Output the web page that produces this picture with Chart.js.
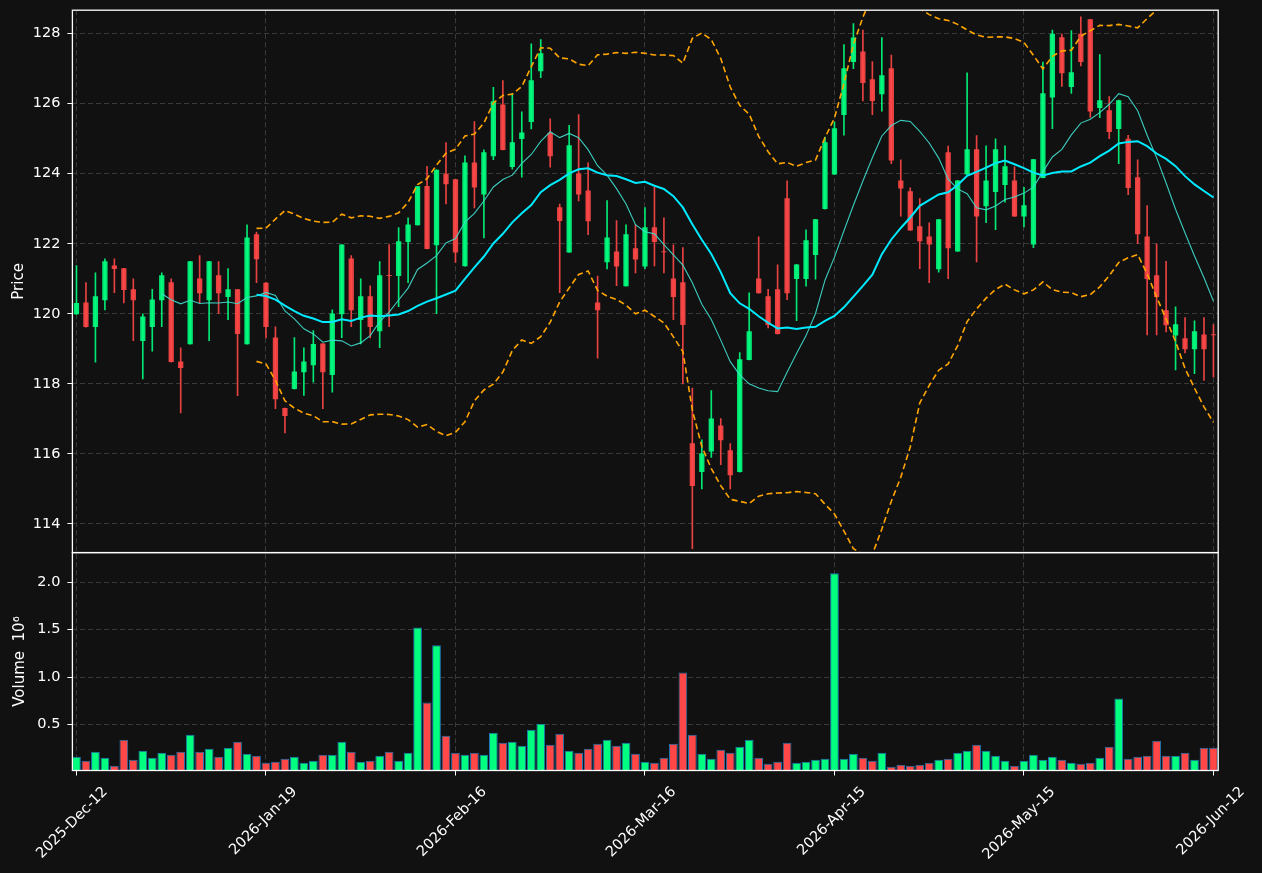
<!DOCTYPE html>
<html>
<head>
<meta charset="utf-8">
<script src="https://cdn.jsdelivr.net/npm/chart.js@4.4.1/dist/chart.umd.min.js"></script>
<style>
html,body{margin:0;padding:0;background:#111111;overflow:hidden}
canvas{display:block}
</style>
</head>
<body>
<canvas id="c" width="1262" height="873"></canvas>
<script>
// ---- tick labels (x axis shows every 20th session) ----
const tickIndex  = [0, 20, 40, 60, 80, 100, 120];
const tickLabels = ['2025-Dec-12', '2026-Jan-19', '2026-Feb-16', '2026-Mar-16', '2026-Apr-15', '2026-May-15', '2026-Jun-12'];
const priceTicks  = [114, 116, 118, 120, 122, 124, 126, 128];
const volumeTicks = [0.5, 1.0, 1.5, 2.0];

// ---- OHLC ----
const opens = [
 119.99,120.32,119.62,120.39,121.38,121.30,120.70,119.22,119.62,120.39,
 120.90,118.64,119.13,121.01,120.39,121.10,120.48,120.70,119.13,122.27,
 120.89,119.32,117.31,117.85,118.33,118.53,119.15,118.25,119.99,121.58,
 119.82,120.50,119.50,121.10,121.08,122.05,122.53,123.65,121.96,124.00,
 123.84,121.36,124.32,123.41,124.50,125.98,124.19,124.99,125.48,126.93,
 125.17,123.04,121.75,124.01,123.52,120.32,121.47,121.78,120.79,121.87,
 121.35,122.47,121.78,121.01,120.90,116.30,115.48,116.07,116.81,116.10,
 115.48,118.68,121.01,120.50,120.70,123.30,120.99,120.99,121.68,122.99,
 123.98,125.68,127.19,127.49,126.70,126.27,127.01,123.81,123.50,122.50,
 122.21,121.27,124.61,121.78,123.98,124.70,123.07,123.48,123.68,123.81,
 122.78,121.98,123.88,126.18,127.90,126.48,128.00,128.41,125.88,125.81,
 125.28,125.00,123.90,122.21,121.10,120.10,119.38,119.30,118.99,119.41,119.41];
const highs = [
 121.38,120.89,121.17,121.57,121.57,121.30,121.00,120.00,120.70,121.17,
 121.00,119.03,121.50,121.66,121.50,121.49,121.29,120.70,122.54,122.33,
 120.90,119.63,117.31,119.32,119.03,119.52,119.15,120.11,121.98,121.66,
 121.00,120.80,121.49,121.98,122.46,122.74,123.64,124.21,124.11,124.89,
 123.84,124.51,125.49,124.68,126.47,126.66,126.29,125.77,127.71,127.83,
 125.57,123.13,125.38,125.69,124.31,121.08,123.23,122.66,122.54,122.54,
 123.03,123.62,122.74,121.97,121.89,117.88,116.40,117.81,117.01,116.29,
 118.89,120.60,122.20,120.70,121.40,123.80,121.41,122.40,122.70,125.05,
 125.48,127.69,128.29,128.10,127.20,127.89,127.39,124.40,123.60,123.29,
 122.60,122.70,124.79,123.81,126.88,125.09,124.80,125.00,124.80,124.20,
 123.61,124.41,127.19,128.10,127.99,128.09,128.48,128.41,127.40,126.20,
 126.10,125.10,124.40,123.09,122.00,121.50,120.20,119.89,119.80,119.89,119.69];
const lows = [
 119.98,119.62,118.62,120.11,120.60,120.31,119.23,118.14,118.93,119.63,
 118.62,117.17,119.13,120.31,119.23,120.00,119.83,117.66,119.13,120.89,
 119.31,117.29,116.60,117.85,117.67,118.05,117.29,117.76,119.32,119.63,
 119.14,119.31,119.03,119.63,120.20,120.89,122.53,121.85,120.00,123.14,
 121.47,121.36,123.02,122.17,124.40,124.68,124.13,123.90,125.28,126.74,
 124.19,120.60,121.75,123.22,122.26,118.73,121.28,120.80,120.79,121.17,
 121.29,121.37,121.17,119.83,118.00,113.29,115.00,115.90,115.69,115.00,
 115.48,118.68,120.59,119.60,119.42,120.40,119.80,120.79,120.99,122.99,
 123.98,125.10,127.00,126.08,125.69,125.79,124.29,122.79,122.38,121.29,
 120.89,121.19,121.00,121.78,123.98,121.48,122.60,122.40,123.19,122.78,
 122.48,121.89,123.88,125.29,126.49,126.29,127.08,125.61,125.60,125.00,
 124.29,123.40,122.00,119.40,119.40,119.48,118.40,118.88,118.29,118.10,118.19];
const closes = [
 120.31,119.62,120.50,121.50,121.28,120.68,120.39,119.92,120.41,121.10,
 118.62,118.45,121.50,120.59,121.50,120.59,120.70,119.42,122.18,121.56,
 119.62,117.56,117.08,118.35,118.64,119.14,118.33,120.01,121.98,120.10,
 120.50,119.62,121.10,121.08,122.07,122.55,123.64,121.85,124.11,123.70,
 121.75,124.32,123.61,124.61,126.07,124.68,124.90,125.18,126.67,127.44,
 124.50,122.65,124.81,123.41,122.64,120.10,122.18,121.35,122.27,121.55,
 122.47,122.05,121.76,120.48,119.68,115.08,116.01,117.01,116.39,115.39,
 118.70,119.50,120.59,119.68,119.42,120.59,121.41,122.10,122.70,124.90,
 125.30,127.01,127.89,126.59,126.08,126.81,124.38,123.58,122.38,122.07,
 121.98,122.70,121.87,123.81,124.70,122.78,123.81,124.70,124.21,122.78,
 123.10,124.41,126.30,128.00,126.87,126.90,127.19,125.78,126.10,125.19,
 126.10,123.59,122.27,120.99,120.48,119.67,119.70,118.99,119.50,118.99,119.39];
// ---- volume, millions ----
const volumes = [
 0.161,0.119,0.214,0.151,0.066,0.341,0.130,0.225,0.151,0.204,
 0.182,0.214,0.394,0.214,0.246,0.161,0.256,0.320,0.193,0.172,
 0.098,0.108,0.140,0.161,0.098,0.119,0.182,0.182,0.320,0.214,
 0.108,0.119,0.172,0.214,0.119,0.204,1.523,0.732,1.334,0.383,
 0.204,0.182,0.204,0.182,0.415,0.309,0.320,0.277,0.446,0.510,
 0.288,0.404,0.225,0.204,0.246,0.299,0.341,0.277,0.309,0.193,
 0.108,0.098,0.151,0.299,1.048,0.394,0.193,0.140,0.235,0.204,
 0.267,0.341,0.151,0.087,0.108,0.309,0.098,0.108,0.130,0.140,
 2.094,0.140,0.193,0.151,0.119,0.204,0.056,0.077,0.066,0.077,
 0.098,0.130,0.140,0.204,0.225,0.288,0.225,0.172,0.119,0.066,
 0.119,0.182,0.130,0.161,0.130,0.098,0.087,0.098,0.151,0.267,
 0.774,0.140,0.161,0.172,0.330,0.172,0.172,0.204,0.130,0.256,0.256];

// ---- indicators derived from the closes (SMA10, SMA20, Bollinger 20/2) ----
function sma(w) {
  return closes.map((_, i) => {
    if (i < w - 1) return null;
    let s = 0;
    for (let k = i - w + 1; k <= i; k++) s += closes[k];
    return s / w;
  });
}
function bollinger(w, m, sign) {
  const mean = sma(w);
  return closes.map((_, i) => {
    if (mean[i] === null) return null;
    let v = 0;
    for (let k = i - w + 1; k <= i; k++) v += (closes[k] - mean[i]) ** 2;
    return mean[i] + sign * m * Math.sqrt(v / w);
  });
}
const sma10 = sma(10), sma20 = sma(20);
const bbUpper = bollinger(20, 2, 1), bbLower = bollinger(20, 2, -1);

// ---- styling ----
const FONT = 'DejaVu Sans';
const BG = '#111111';
const GRID = '#3a3a3a';
const UP = 'rgb(0,255,128)', DOWN = 'rgb(255,71,71)';
const UP_C = 'rgba(0,255,128,0.9)', DOWN_C = 'rgba(255,71,71,0.9)';
const up = closes.map((c, i) => c >= opens[i]);
const pts = arr => arr.map((v, i) => ({x: i, y: v}));

const bgPlugin = {
  id: 'bg',
  beforeDraw(chart) {
    const ctx = chart.ctx;
    ctx.save();
    ctx.fillStyle = BG;
    ctx.fillRect(0, 0, chart.width, chart.height);
    ctx.restore();
  }
};
const panelClip = {
  id: 'panelClip',
  beforeDatasetDraw(chart, args) {
    const ds = chart.data.datasets[args.index];
    const sc = chart.scales[ds.yAxisID];
    const a = chart.chartArea;
    chart.ctx.save();
    chart.ctx.beginPath();
    chart.ctx.rect(a.left, sc.top, a.right - a.left, sc.bottom - sc.top);
    chart.ctx.clip();
  },
  afterDatasetDraw(chart) { chart.ctx.restore(); }
};
const frames = {
  id: 'frames',
  afterDatasetsDraw(chart) {
    const ctx = chart.ctx, a = chart.chartArea;
    ctx.save();
    ctx.strokeStyle = '#ffffff';
    ctx.lineWidth = 1.3;
    ['y', 'yv'].forEach(id => {
      const sc = chart.scales[id];
      ctx.strokeRect(a.left, sc.top, a.right - a.left, sc.bottom - sc.top);
    });
    ctx.restore();
  }
};

const gridOpts = {color: GRID, lineWidth: 1, drawTicks: true, tickLength: 5, tickColor: '#ffffff', tickWidth: 1, offset: false};
const borderOpts = {display: false, dash: [5, 3]};
const TICK_FONT = {family: FONT, size: 14.5};
const TITLE_FONT = {family: FONT, size: 15};

new Chart(document.getElementById('c'), {
  type: 'bar',
  data: {
    datasets: [
      {
        label: 'Volume', type: 'bar', yAxisID: 'yv', order: 9,
        data: pts(volumes),
        backgroundColor: up.map(u => u ? UP : DOWN),
        borderColor: '#1f77b4', borderWidth: 1,
        barPercentage: 0.92, categoryPercentage: 1, grouped: false
      },
      {
        label: 'Wick', type: 'bar', yAxisID: 'y', order: 8,
        data: lows.map((l, i) => ({x: i, y: [l, highs[i]]})),
        backgroundColor: up.map(u => u ? UP_C : DOWN_C),
        barThickness: 1, grouped: false
      },
      {
        label: 'Body', type: 'bar', yAxisID: 'y', order: 7,
        data: opens.map((o, i) => ({x: i, y: [Math.min(o, closes[i]), Math.max(o, closes[i])]})),
        backgroundColor: up.map(u => u ? UP_C : DOWN_C),
        barPercentage: 0.56, categoryPercentage: 1, grouped: false, minBarLength: 1
      },
      {
        label: 'BB upper', type: 'line', yAxisID: 'y', order: 3,
        data: pts(bbUpper), borderColor: '#ffa500', borderWidth: 1.6, borderDash: [6, 3.5],
        pointRadius: 0, tension: 0, fill: false
      },
      {
        label: 'BB lower', type: 'line', yAxisID: 'y', order: 3,
        data: pts(bbLower), borderColor: '#ffa500', borderWidth: 1.6, borderDash: [6, 3.5],
        pointRadius: 0, tension: 0, fill: false
      },
      {
        label: 'SMA10', type: 'line', yAxisID: 'y', order: 2,
        data: pts(sma10), borderColor: 'rgba(64,224,208,0.9)', borderWidth: 1.1,
        pointRadius: 0, tension: 0, fill: false
      },
      {
        label: 'SMA20', type: 'line', yAxisID: 'y', order: 1,
        data: pts(sma20), borderColor: '#00eaff', borderWidth: 2,
        pointRadius: 0, tension: 0, fill: false
      }
    ]
  },
  options: {
    responsive: false,
    devicePixelRatio: 1,
    animation: false,
    layout: {padding: {left: 0, right: 43.8, top: 10.2, bottom: 0}},
    plugins: {legend: {display: false}, tooltip: {enabled: false}},
    scales: {
      x: {
        type: 'linear', min: -0.43, max: 120.5, bounds: 'data', offset: false,
        afterBuildTicks: s => { s.ticks = tickIndex.map(v => ({value: v})); },
        afterFit: s => { s.height = 102.5; s.paddingLeft = 0; s.paddingRight = 0; },
        grid: gridOpts, border: borderOpts,
        ticks: {
          autoSkip: false, maxRotation: 45, minRotation: 45, color: '#ffffff',
          font: TICK_FONT, padding: 8, labelOffset: 29,
          callback: (v, i) => tickLabels[i]
        }
      },
      yv: {
        type: 'linear', position: 'left', stack: 'panels', stackWeight: 217.9,
        min: 0.017, max: 2.31, bounds: 'data',
        afterBuildTicks: s => { s.ticks = volumeTicks.map(v => ({value: v})); },
        afterFit: s => { s.width = 72.4; s.paddingTop = 0; s.paddingBottom = 0; },
        grid: gridOpts, border: borderOpts,
        ticks: {autoSkip: false, color: '#ffffff', font: TICK_FONT, padding: 7,
                callback: v => v.toFixed(1)},
        title: {display: true, text: 'Volume  10\u2076', color: '#ffffff',
                font: TITLE_FONT, padding: {top: 11, bottom: 0}}
      },
      y: {
        type: 'linear', position: 'left', stack: 'panels', stackWeight: 542.4,
        min: 113.18, max: 128.67, bounds: 'data',
        afterBuildTicks: s => { s.ticks = priceTicks.map(v => ({value: v})); },
        afterFit: s => { s.width = 72.4; s.paddingTop = 0; s.paddingBottom = 0; },
        grid: gridOpts, border: borderOpts,
        ticks: {autoSkip: false, color: '#ffffff', font: TICK_FONT, padding: 7,
                callback: v => String(v)},
        title: {display: true, text: 'Price', color: '#ffffff',
                font: TITLE_FONT, padding: {top: 10, bottom: 0}}
      }
    }
  },
  plugins: [bgPlugin, panelClip, frames]
});
</script>
</body>
</html>
